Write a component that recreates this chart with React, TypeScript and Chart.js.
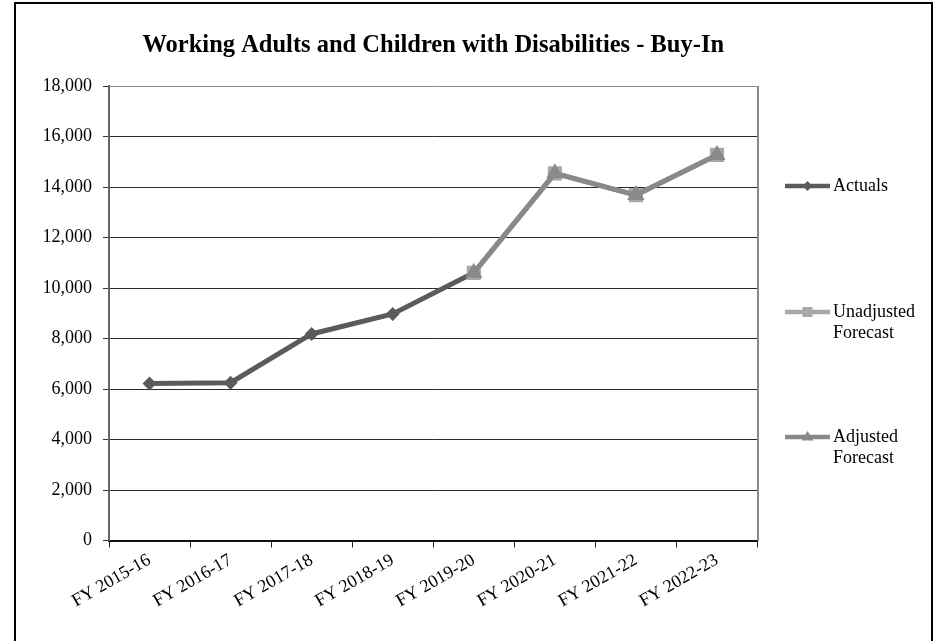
import React, { useEffect, useRef } from 'react';
import { Chart, registerables } from 'chart.js';

Chart.register(...registerables);

const TITLE = 'Working Adults and Children with Disabilities - Buy-In';
const categories = ['FY 2015-16', 'FY 2016-17', 'FY 2017-18', 'FY 2018-19', 'FY 2019-20', 'FY 2020-21', 'FY 2021-22', 'FY 2022-23'];
const actuals = [6220, 6250, 8180, 8970, 10600, null, null, null];
const unadjustedForecast = [null, null, null, null, 10600, 14540, 13680, 15270];
const adjustedForecast = [null, null, null, null, 10600, 14540, 13680, 15270];
const yMin = 0;
const yMax = 18000;
const yStep = 2000;
const legendLabels = [['Actuals'], ['Unadjusted', 'Forecast'], ['Adjusted', 'Forecast']];

const C_ACT = '#5b5b5b';
const C_UNADJ = '#a8a8a8';
const C_ADJ = '#898989';
const SERIF = "'Liberation Serif', 'Times New Roman', serif";

const framePlugin = {
  id: 'frameAndLegend',
  afterDraw(chart: any) {
    const ctx = chart.ctx;
    const a = chart.chartArea;
    ctx.save();
    // plot area right border
    ctx.strokeStyle = '#8a8a8a';
    ctx.lineWidth = 2;
    ctx.beginPath();
    ctx.moveTo(Math.round(a.right), a.top);
    ctx.lineTo(Math.round(a.right), a.bottom);
    ctx.stroke();
    // outer border
    ctx.strokeStyle = '#000';
    ctx.lineWidth = 2;
    ctx.strokeRect(15, 3, 917, 660);

    // legend
    const items = [
      { color: C_ACT, style: 'diamond', y: 186, lines: legendLabels[0] },
      { color: C_UNADJ, style: 'square', y: 312, lines: legendLabels[1] },
      { color: C_ADJ, style: 'triangle', y: 437, lines: legendLabels[2] },
    ];
    const x0 = 785, x1 = 830, xm = (x0 + x1) / 2;
    ctx.font = `18px ${SERIF}`;
    ctx.textBaseline = 'middle';
    ctx.textAlign = 'left';
    for (const it of items) {
      ctx.strokeStyle = it.color;
      ctx.lineWidth = 4.5;
      ctx.beginPath();
      ctx.moveTo(x0, it.y);
      ctx.lineTo(x1, it.y);
      ctx.stroke();
      ctx.fillStyle = it.color;
      ctx.beginPath();
      if (it.style === 'diamond') {
        const r = 5;
        ctx.moveTo(xm, it.y - r);
        ctx.lineTo(xm + r, it.y);
        ctx.lineTo(xm, it.y + r);
        ctx.lineTo(xm - r, it.y);
      } else if (it.style === 'square') {
        const s = 5;
        ctx.rect(xm - s, it.y - s, 2 * s, 2 * s);
      } else {
        const r = 6;
        ctx.moveTo(xm, it.y - r);
        ctx.lineTo(xm + r, it.y + r * 0.6);
        ctx.lineTo(xm - r, it.y + r * 0.6);
      }
      ctx.closePath();
      ctx.fill();
      ctx.fillStyle = '#000';
      it.lines.forEach((t: string, i: number) => {
        ctx.fillText(t, 833, it.y + i * 21.5);
      });
    }
    ctx.restore();
  },
};

export default function App() {
  const ref = useRef<HTMLCanvasElement | null>(null);
  useEffect(() => {
    if (!ref.current) return;
    const tickFont = { family: SERIF, size: 18 };
    const chart = new Chart(ref.current, {
      type: 'line',
      data: {
        labels: categories,
        datasets: [
          {
            label: 'Actuals',
            data: actuals,
            borderColor: C_ACT,
            backgroundColor: C_ACT,
            borderWidth: 5,
            pointStyle: 'rectRot',
            pointRadius: 7,
            pointBorderWidth: 0,
            order: 3,
          },
          {
            label: 'Unadjusted Forecast',
            data: unadjustedForecast,
            borderColor: C_UNADJ,
            backgroundColor: C_UNADJ,
            borderWidth: 5,
            pointStyle: 'rect',
            pointRadius: 10,
            pointBorderWidth: 0,
            order: 2,
          },
          {
            label: 'Adjusted Forecast',
            data: adjustedForecast,
            borderColor: C_ADJ,
            backgroundColor: C_ADJ,
            borderWidth: 5,
            pointStyle: 'triangle',
            pointRadius: 10,
            pointBorderWidth: 0,
            order: 1,
          },
        ],
      },
      options: {
        animation: false,
        responsive: false,
        devicePixelRatio: 1,
        layout: { padding: { left: 0, right: 181.5, top: 0, bottom: 0 } },
        plugins: {
          legend: { display: false },
          tooltip: { enabled: false },
          title: {
            display: true,
            text: TITLE,
            fullSize: false,
            color: '#000',
            font: { family: SERIF, size: 24.5, weight: 'bold' },
            padding: { top: 31.3, bottom: 25.3 },
          },
        },
        scales: {
          x: {
            offset: true,
            grid: {
              offset: true,
              drawOnChartArea: false,
              drawTicks: true,
              tickLength: 7,
              color: '#222',
              lineWidth: 1,
            },
            border: { display: true, color: '#111', width: 2 },
            ticks: {
              autoSkip: false,
              minRotation: 30,
              maxRotation: 30,
              padding: 2,
              color: '#000',
              font: tickFont,
            },
            afterFit: (s: any) => { s.height = 100.5; },
          },
          y: {
            min: yMin,
            max: yMax,
            ticks: {
              stepSize: yStep,
              padding: 11,
              color: '#000',
              font: tickFont,
              callback: (v: any) => Number(v).toLocaleString('en-US'),
            },
            grid: {
              color: (c: any) => (c.tick && c.tick.value === yMax ? '#8a8a8a' : '#2a2a2a'),
              tickColor: '#333',
              tickLength: 6,
              lineWidth: 1,
            },
            border: { display: true, color: '#666', width: 2 },
            afterFit: (s: any) => { s.width = 109; },
          },
        },
      },
      plugins: [framePlugin],
    } as any);
    return () => chart.destroy();
  }, []);
  return (
    <div style={{ position: 'fixed', left: 0, top: 0, width: 939, height: 641, background: '#fff' }}>
      <canvas ref={ref} width={939} height={641} style={{ display: 'block' }} />
    </div>
  );
}
